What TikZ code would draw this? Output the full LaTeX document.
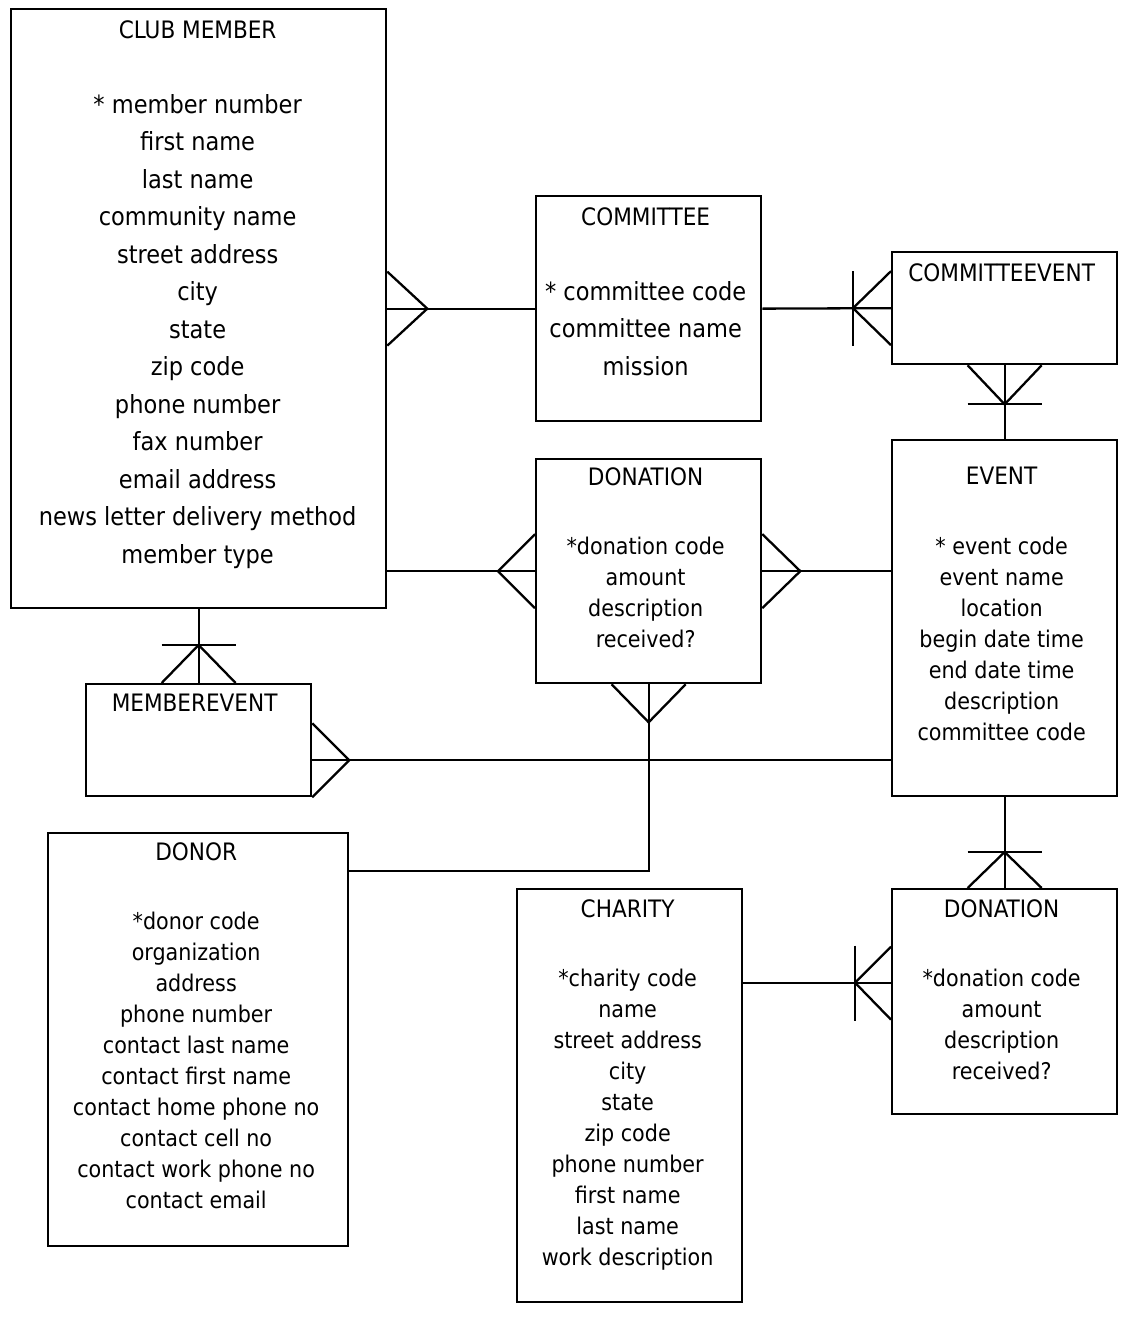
\documentclass[tikz,border=0pt]{standalone}
\usepackage{fontspec}
\setmainfont{DejaVu Sans Condensed}
\usepackage{tikz}
\usetikzlibrary{positioning,calc}
\newcommand{\enttitle}[1]{{\fontsize{24}{31}\selectfont #1}}

\begin{document}
\begin{tikzpicture}[x=1pt,y=-1pt, font=\fontsize{23}{31}\selectfont]
\tikzset{entity/.style={draw, line width=2.3pt, inner sep=0pt, anchor=north west}, attrs/.style={align=center, anchor=north, inner sep=0pt}, wide/.style={attrs, font=\fontsize{25}{37.5}\selectfont}, rel/.style={line width=2.3pt, line join=miter}}
\useasboundingbox[fill=white] (0,0) rectangle (1131,1319);
% entities
\node[entity, minimum width=375pt, minimum height=599pt] (member) at (10,8) {};
\node[entity, minimum width=225pt, minimum height=225pt] (committee) at (535,195) {};
\node[entity, minimum width=225pt, minimum height=112pt] (cevent) at (891,251) {};
\node[entity, minimum width=225pt, minimum height=224pt] (dontop) at (535,458) {};
\node[entity, minimum width=225pt, minimum height=356pt] (event) at (891,439) {};
\node[entity, minimum width=225pt, minimum height=112pt] (mevent) at (85,683) {};
\node[entity, minimum width=300pt, minimum height=413pt] (donor) at (47,832) {};
\node[entity, minimum width=225pt, minimum height=413pt] (charity) at (516,888) {};
\node[entity, minimum width=225pt, minimum height=225pt] (donbottom) at (891,888) {};
% texts
\node[wide] (membertext) at ($(member.north)+(-1,12)$) {\enttitle{CLUB MEMBER}\\[37.5pt]* member number\\first name\\last name\\community name\\street address\\city\\state\\zip code\\phone number\\fax number\\email address\\news letter delivery method\\member type};
\node[wide] (committeetext) at ($(committee.north)+(-3,12)$) {\enttitle{COMMITTEE}\\[37.5pt]* committee code\\committee name\\mission};
\node[attrs] (ceventtext) at ($(cevent.north)+(-3,12)$) {\enttitle{COMMITTEEVENT}};
\node[attrs] (dontoptext) at ($(dontop.north)+(-3,9)$) {\enttitle{DONATION}\\[38.5pt]*donation code\\amount\\description\\received?};
\node[attrs] (eventtext) at ($(event.north)+(-3,28)$) {\enttitle{EVENT}\\[38.5pt]* event code\\event name\\location\\begin date time\\end date time\\description\\committee code};
\node[attrs] (meventtext) at ($(mevent.north)+(-4,11)$) {\enttitle{MEMBEREVENT}};
\node[attrs] (donortext) at ($(donor.north)+(-2,10)$) {\enttitle{DONOR}\\[38.5pt]*donor code\\organization\\address\\phone number\\contact last name\\contact first name\\contact home phone no\\contact cell no\\contact work phone no\\contact email};
\node[attrs] (charitytext) at ($(charity.north)+(-2,11)$) {\enttitle{CHARITY}\\[38.5pt]*charity code\\name\\street address\\city\\state\\zip code\\phone number\\first name\\last name\\work description};
\node[attrs] (donbottomtext) at ($(donbottom.north)+(-3,11)$) {\enttitle{DONATION}\\[38.5pt]*donation code\\amount\\description\\received?};
% link points
\coordinate (m1) at (member.east |- committee.west);
\coordinate (m2) at (member.east |- dontop.west);
\coordinate (e1) at (event.west |- dontop.east);
\coordinate (me) at ($(mevent.south east)+(0,-37)$);
\coordinate (bend) at ($(dontop.south)+(0,187)$);
\coordinate (db) at ($(donbottom.west)+(0,-19)$);
% relationships
\draw[rel] (m1) -- (committee.west);
\draw[rel] ($(m1)+(0,-37)$) -- ++(40,37) -- ++(-40,37);
\draw[rel] (committee.east) -- (cevent.west);
\draw[rel] ($(cevent.west)+(0,-37)$) -- ++(-38,37) -- ++(38,37);
\draw[rel] ($(cevent.west)+(-38,-37)$) -- ++(0,75);
\draw[rel] (cevent.south) -- (event.north);
\draw[rel] ($(cevent.south)+(-37,0)$) -- ++(37,39) -- ++(37,-39);
\draw[rel] ($(cevent.south)+(-37,39)$) -- ++(74,0);
\draw[rel] (m2) -- (dontop.west);
\draw[rel] ($(dontop.west)+(0,-37)$) -- ++(-37,37) -- ++(37,37);
\draw[rel] (dontop.east) -- (e1);
\draw[rel] ($(dontop.east)+(0,-37)$) -- ++(38,37) -- ++(-38,37);
\draw[rel] (dontop.south) -- (bend) -- (bend -| donor.east);
\draw[rel] ($(dontop.south)+(-37,0)$) -- ++(37,38) -- ++(37,-38);
\draw[rel] (member.south) -- (mevent.north);
\draw[rel] ($(mevent.north)+(-37,0)$) -- ++(37,-38) -- ++(37,38);
\draw[rel] ($(mevent.north)+(-37,-38)$) -- ++(74,0);
\draw[rel] (me) -- (event.west |- me);
\draw[rel] ($(me)+(0,-37)$) -- ++(37,37) -- ++(-37,37);
\draw[rel] (event.south) -- (donbottom.north);
\draw[rel] ($(donbottom.north)+(-37,0)$) -- ++(37,-36) -- ++(37,36);
\draw[rel] ($(donbottom.north)+(-37,-36)$) -- ++(74,0);
\draw[rel] (charity.east |- db) -- (db);
\draw[rel] ($(db)+(0,-36)$) -- ++(-36,36) -- ++(36,37);
\draw[rel] ($(db)+(-36,-37)$) -- ++(0,75);
\end{tikzpicture}
\end{document}
